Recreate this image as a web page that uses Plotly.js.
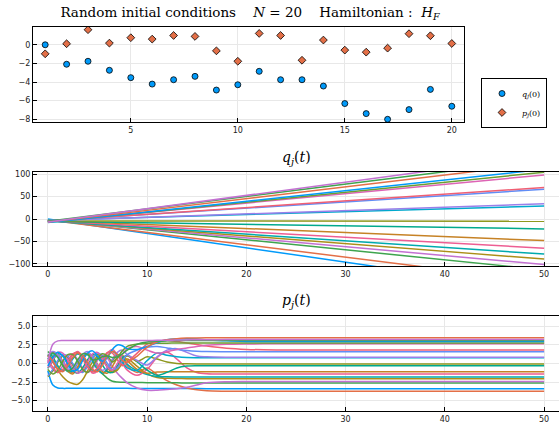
<!DOCTYPE html>
<html>
<head>
<meta charset="utf-8">
<script src="https://cdn.plot.ly/plotly-3.0.1.min.js"></script>
<style>html,body{margin:0;padding:0;background:#fff;}#chart{width:559px;height:425px;}</style>
</head>
<body>
<div id="chart"></div>
<script>
// ---------- data ----------
const jIdx = [1,2,3,4,5,6,7,8,9,10,11,12,13,14,15,16,17,18,19,20];
const qInit = [0,-2.09,-1.77,-2.74,-3.53,-4.22,-3.75,-3.39,-4.86,-4.29,-2.85,-3.75,-3.75,-4.43,-6.31,-7.39,-8.0,-6.96,-4.79,-6.6];
const pInit = [-0.97,0.11,1.62,0.18,0.76,0.61,1.0,0.9,-0.65,-1.77,1.22,1.0,-1.66,0.51,-0.57,-0.79,-0.36,1.19,0.97,0.14];

// q_j(t): values at t = 0 and t = 50
const tQ = [0, 50];
const qEnd = [-160,-140,-113,-101,-89,-78,-65,-48,-22,-5,29,34,66,70,98,104,110.6,124,132.6,141];

// p_j(t): values read at these times
const tP = [0,0.5,1,1.5,2,2.5,3,3.5,4,4.5,5,5.5,6,6.5,7,7.5,8,9,10,11,12,13,14,15,16,18,20,23,26,30,50];
const p01 = [-0.97,-2.9,-3.3,-3.35,-3.35,-3.35,-3.35,-3.35,-3.35,-3.35,-3.35,-3.35,-3.35,-3.35,-3.35,-3.35,-3.35,-3.36,-3.36,-3.37,-3.37,-3.38,-3.38,-3.38,-3.39,-3.39,-3.39,-3.39,-3.39,-3.39,-3.39];
const p02 = [0.11,1.0,1.2,0.3,-0.8,-1.2,-0.4,0.8,1.3,0.6,-0.5,-1.3,-0.9,0.3,1.1,0.8,-0.3,-1.2,-0.6,-1.5,-2.3,-2.9,-3.3,-3.55,-3.68,-3.73,-3.75,-3.75,-3.75,-3.75,-3.75];
const p03 = [1.62,0.9,-0.3,-1.0,-0.4,0.7,1.3,0.8,-0.3,-1.1,-0.8,-1.4,-2.0,-2.4,-2.5,-2.52,-2.55,-2.57,-2.58,-2.6,-2.6,-2.61,-2.62,-2.62,-2.63,-2.63,-2.63,-2.63,-2.63,-2.63,-2.63];
const p04 = [0.18,-0.8,-1.2,-0.3,0.9,1.3,0.5,-0.6,-1.2,-0.7,0.4,1.1,0.7,-0.4,-1.3,-2.0,-2.6,-3.3,-3.6,-3.6,-3.5,-3.4,-3.2,-2.9,-2.6,-2.45,-2.42,-2.41,-2.41,-2.41,-2.41];
const p05 = [0.76,0.2,-0.9,-1.8,-2.4,-2.7,-2.8,-2.2,-1.0,0.2,0.9,0.5,-0.5,-1.2,-0.9,0.0,0.6,-0.4,-1.4,-1.9,-2.0,-2.03,-2.04,-2.05,-2.05,-2.05,-2.05,-2.05,-2.05,-2.05,-2.05];
const p06 = [0.61,1.3,0.9,-0.2,-1.1,-1.0,0.1,1.0,1.2,0.3,-0.8,-1.3,-0.7,0.5,1.2,0.9,-0.1,-1.0,-1.5,-1.75,-1.8,-1.81,-1.82,-1.82,-1.82,-1.82,-1.82,-1.82,-1.82,-1.82,-1.82];
const p07 = [1.0,0.2,-0.8,-0.9,0.1,1.1,1.6,0.9,-0.3,-1.3,-1.0,0.2,1.4,1.9,1.2,0.0,-0.9,-1.6,-0.8,0.8,1.5,0.6,-0.6,-1.2,-1.38,-1.42,-1.42,-1.42,-1.42,-1.42,-1.42];
const p08 = [0.9,1.5,1.2,0.1,-1.0,-1.4,-0.6,0.6,1.3,1.0,-0.1,-1.1,-1.3,-0.4,0.7,1.1,0.4,-0.8,-1.3,-1.15,-1.1,-1.1,-1.1,-1.1,-1.1,-1.1,-1.1,-1.1,-1.1,-1.1,-1.1];
const p09 = [-0.65,0.4,1.3,1.1,0.1,-0.9,-1.3,-0.6,0.5,1.2,0.9,-0.2,-1.1,-1.2,-0.3,0.7,1.1,0.2,-0.9,-1.6,-1.2,-0.6,-0.35,-0.3,-0.3,-0.3,-0.3,-0.3,-0.3,-0.3,-0.3];
const p10 = [-1.77,-1.0,0.2,1.0,0.8,-0.2,-1.0,-1.1,-0.2,0.8,1.2,0.6,-0.4,-1.0,-0.6,0.5,1.0,0.3,0.9,0.6,0.2,0.0,-0.05,-0.07,-0.07,-0.07,-0.07,-0.07,-0.07,-0.07,-0.07];
const p11 = [1.22,0.6,-0.4,-1.0,-0.5,0.6,1.3,1.0,0.0,-0.9,-1.0,-0.1,1.0,1.6,1.1,0.2,-0.6,-0.9,0.4,1.4,1.1,0.9,0.8,0.78,0.78,0.78,0.78,0.78,0.78,0.78,0.78];
const p12 = [1.0,1.6,1.2,0.2,-0.7,-0.8,0.2,1.2,1.6,0.9,-0.2,-0.9,-0.5,0.6,1.5,1.8,1.2,0.4,-0.2,0.9,1.8,2.0,1.5,1.0,0.9,0.85,0.85,0.85,0.85,0.85,0.85];
const p13 = [-1.66,-0.8,0.4,1.2,1.0,0.0,-0.9,-1.2,-0.4,0.7,1.4,1.0,0.0,-0.8,-0.6,0.4,1.2,1.8,2.2,2.3,2.1,1.9,1.75,1.65,1.6,1.59,1.59,1.59,1.59,1.59,1.59];
const p14 = [0.51,-0.5,-1.2,-0.8,0.3,1.3,1.5,0.6,-0.5,-1.1,-0.6,0.6,1.5,1.4,0.5,-0.3,0.2,1.4,2.6,3.0,3.1,2.95,2.75,2.55,2.35,2.05,1.9,1.83,1.82,1.82,1.82];
const p15 = [-0.57,0.5,1.5,1.4,0.5,-0.6,-1.3,-0.9,0.2,1.3,1.5,0.6,-0.5,-0.9,0.0,1.2,2.0,2.3,1.8,1.4,1.6,1.9,2.1,2.3,2.45,2.58,2.63,2.66,2.66,2.66,2.66];
const p16 = [-0.79,-1.4,-0.9,0.3,1.2,1.2,0.3,-0.8,-1.2,-0.4,0.7,1.3,1.0,0.2,0.8,1.7,2.3,2.6,2.7,2.72,2.74,2.75,2.75,2.75,2.75,2.75,2.75,2.75,2.75,2.75,2.75];
const p17 = [-0.36,0.8,1.5,1.0,-0.1,-1.0,-0.8,0.4,1.4,1.7,1.0,0.3,0.8,1.9,2.5,2.4,2.0,1.9,2.3,2.8,3.2,3.3,3.32,3.3,3.2,3.05,2.98,2.95,2.95,2.95,2.95];
const p18 = [1.19,0.3,-0.7,-1.1,-0.3,0.8,1.4,1.1,0.1,-0.8,-1.1,-0.2,1.0,1.6,1.2,0.4,0.2,1.0,2.2,2.9,3.2,3.35,3.42,3.45,3.47,3.47,3.47,3.47,3.47,3.47,3.47];
const p19 = [0.97,1.4,0.8,-0.3,-1.0,-0.6,0.5,1.3,1.2,0.5,0.6,0.9,1.0,0.8,0.9,1.3,1.8,2.6,2.9,3.0,3.05,3.08,3.1,3.1,3.1,3.1,3.1,3.1,3.1,3.1,3.1];
const p20 = [0.14,2.6,3.05,3.1,3.1,3.1,3.1,3.1,3.1,3.1,3.1,3.1,3.1,3.1,3.1,3.1,3.1,3.1,3.1,3.12,3.14,3.16,3.18,3.2,3.21,3.22,3.23,3.24,3.24,3.24,3.24];
const pAll = [p01,p02,p03,p04,p05,p06,p07,p08,p09,p10,p11,p12,p13,p14,p15,p16,p17,p18,p19,p20];

// ---------- style ----------
const palette = ["#009AFA","#E36F47","#3EA44E","#C371D2","#AC8E18","#00AAAE","#ED5E93","#C68225","#00A98D","#8E971E","#00A9CD","#9B7FE9","#618DF6","#F05F73","#DD64B5","#6B9E32"];
const serif = "DejaVu Serif, Liberation Serif, serif";
const sans = "DejaVu Sans, sans-serif";

const traces = [];
traces.push({
  type:'scatter', mode:'markers', x:jIdx, y:qInit, xaxis:'x', yaxis:'y',
  name:'<i>q</i><sub><i>j</i></sub>(0)',
  marker:{symbol:'circle', size:6, color:palette[0], line:{color:'black', width:0.8}}
});
traces.push({
  type:'scatter', mode:'markers', x:jIdx, y:pInit, xaxis:'x', yaxis:'y',
  name:'<i>p</i><sub><i>j</i></sub>(0)',
  marker:{symbol:'diamond', size:6, color:palette[1], line:{color:'black', width:0.8}}
});
for (let i = 0; i < jIdx.length; i++) {
  traces.push({
    type:'scatter', mode:'lines', x:tQ, y:[qInit[i], qEnd[i]], xaxis:'x2', yaxis:'y2',
    showlegend:false, hoverinfo:'skip',
    line:{color:palette[i % palette.length], width:1.5}
  });
}
for (let i = 0; i < pAll.length; i++) {
  traces.push({
    type:'scatter', mode:'lines', x:tP, y:pAll[i], xaxis:'x3', yaxis:'y3',
    showlegend:false, hoverinfo:'skip',
    line:{color:palette[i % palette.length], width:1.5, shape:'spline', smoothing:0.9}
  });
}

const ax = {
  showline:true, linecolor:'black', linewidth:1, mirror:true,
  ticks:'inside', ticklen:4, tickcolor:'black', tickwidth:1,
  showgrid:true, gridcolor:'#e8e8e8', gridwidth:1, zeroline:false,
  tickfont:{family:sans, size:8, color:'#222'}, fixedrange:true
};

const layout = {
  width:559, height:425,
  margin:{l:0, r:0, t:0, b:0},
  paper_bgcolor:'white', plot_bgcolor:'white',
  showlegend:true,
  title:{
    text:'Random initial conditions\u00A0\u00A0\u00A0\u00A0<i>N</i> = 20\u00A0\u00A0\u00A0\u00A0Hamiltonian :\u00A0\u00A0<i>H</i><sub><i>F</i></sub>',
    x:250/559, xanchor:'center', xref:'paper', y:1-12/425, yanchor:'middle', yref:'paper',
    font:{family:serif, size:13.5, color:'black'}
  },
  xaxis:Object.assign({}, ax, {domain:[33/559, 464/559], range:[0.43, 20.57], tickvals:[5,10,15,20], anchor:'y'}),
  yaxis:Object.assign({}, ax, {domain:[1-122/425, 1-27/425], range:[-8.29, 1.91], tickvals:[-8,-6,-4,-2,0], anchor:'x'}),
  xaxis2:Object.assign({}, ax, {domain:[33/559, 1], range:[-1.5, 51.5], tickvals:[0,10,20,30,40,50], anchor:'y2'}),
  yaxis2:Object.assign({}, ax, {domain:[1-266/425, 1-172/425], range:[-104.5, 104.5], tickvals:[-100,-50,0,50,100], anchor:'x2'}),
  xaxis3:Object.assign({}, ax, {domain:[33/559, 1], range:[-1.5, 51.5], tickvals:[0,10,20,30,40,50], anchor:'y3'}),
  yaxis3:Object.assign({}, ax, {domain:[1-411/425, 1-316/425], range:[-6.4, 6.4], tickvals:[-5,-2.5,0,2.5,5], tickformat:'.1f', anchor:'x3'}),
  legend:{
    x:481/559, y:1-103/425, xanchor:'left', yanchor:'middle',
    bordercolor:'black', borderwidth:1, bgcolor:'white',
    font:{family:serif, size:8, color:'black'}, tracegroupgap:0
  },
  annotations:[
    {text:'<i>q</i><sub><i>j</i></sub>(<i>t</i>)', xref:'paper', yref:'paper', x:296/559, y:1-158/425,
     xanchor:'center', yanchor:'middle', showarrow:false, font:{family:serif, size:14, color:'black'}},
    {text:'<i>p</i><sub><i>j</i></sub>(<i>t</i>)', xref:'paper', yref:'paper', x:296/559, y:1-301/425,
     xanchor:'center', yanchor:'middle', showarrow:false, font:{family:serif, size:14, color:'black'}}
  ]
};

Plotly.newPlot('chart', traces, layout, {displayModeBar:false, staticPlot:true});
</script>
</body>
</html>
